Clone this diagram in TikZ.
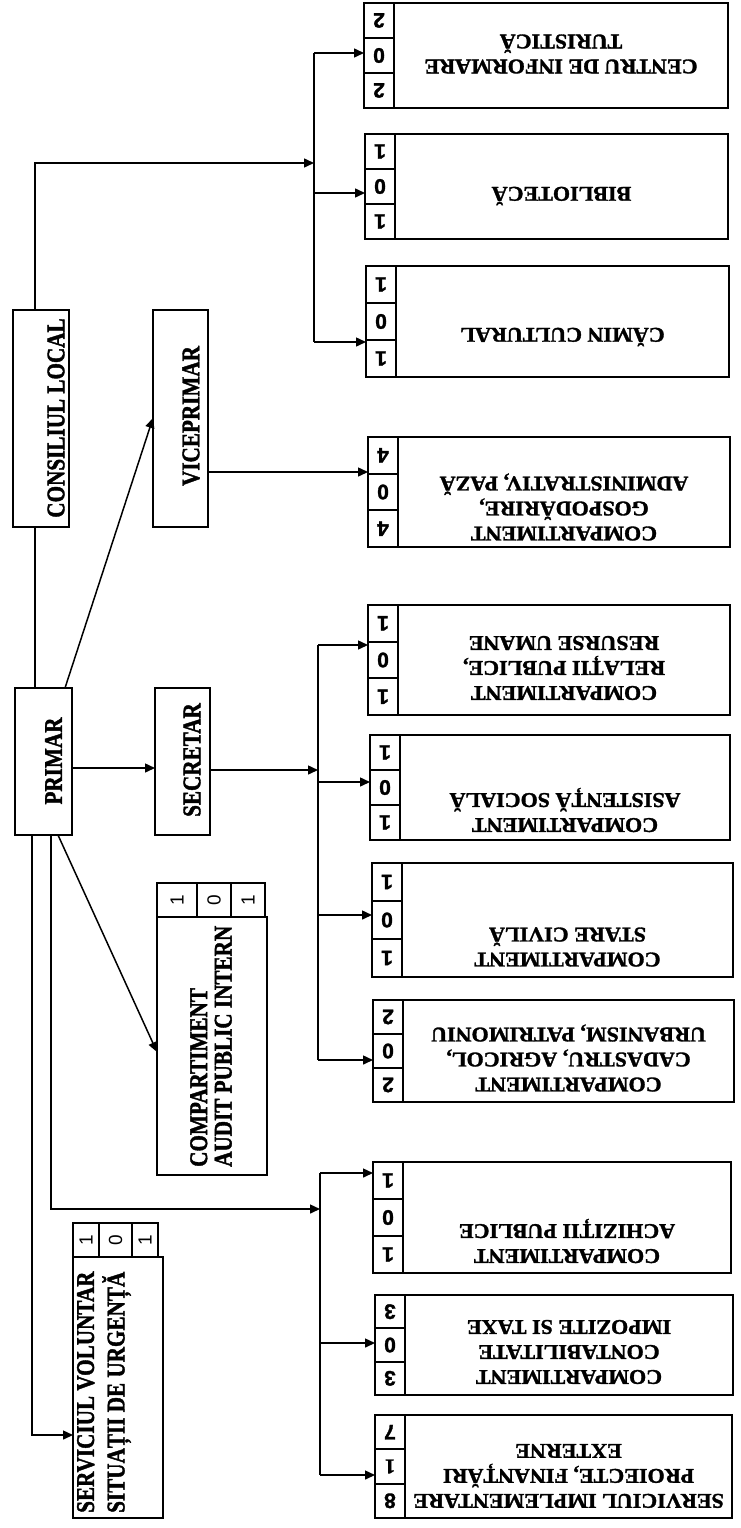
\documentclass[tikz,border=0pt]{standalone}
\usepackage{fontspec}
\setmainfont{Liberation Serif}
\newfontfamily\rtfont{Liberation Serif Bold}[FakeStretch=1.05,FakeBold=1.5]
\newfontfamily\ltfont{Liberation Serif Bold}[FakeStretch=0.83,FakeBold=1.5]
\newfontfamily\numfont{Liberation Sans}
\newfontfamily\numbold{Liberation Sans Bold}[FakeBold=1.5]
\newfontfamily\numserif{Liberation Serif Bold}[FakeBold=1.5]
\usetikzlibrary{arrows.meta}

\tikzset{
  box/.style={draw, line width=2.6pt, inner sep=0pt, outer sep=0pt},
  stripline/.style={line width=2.6pt},
  cell/.style={line width=1.8pt},
  conn/.style={line width=1.5pt},
  arr/.style={conn, -{Triangle[length=10pt,width=9pt]}},
  rtxt/.style={rotate=180, align=center, inner sep=0pt, font=\rtfont\fontsize{21}{25}\selectfont},
  ltxt/.style={rotate=90, align=left, inner sep=0pt, font=\ltfont\fontsize{25.5}{24.5}\selectfont},
  rnum/.style={rotate=180, inner sep=0pt, font=\numbold\fontsize{21}{21}\selectfont},
  lcell/.style={draw, line width=1.8pt, rotate=90, inner sep=0pt, outer sep=0pt, font=\numfont\fontsize{19}{19}\selectfont},
}

% right-hand box with number strip: name, x1, y1, x2, y2, top, middle, bottom digit
\newcommand\rbox[8]{%
  \pgfmathsetmacro\hh{(#5-#3)/3}%
  \node[box, minimum width={(#4-#2)*1pt}, minimum height={(#5-#3)*1pt}] (#1) at ({(#2+#4)/2},{(#3+#5)/2}) {};
  \draw[stripline] ({#2+30},#3) -- ({#2+30},#5);
  \draw[cell] (#2,{#3+\hh}) -- ({#2+30},{#3+\hh});
  \draw[cell] (#2,{#3+2*\hh}) -- ({#2+30},{#3+2*\hh});
  \node[rnum] (#1a) at ({#2+15},{#3+0.5*\hh}) {#6};
  \node[rnum] (#1b) at ({#2+15},{#3+1.5*\hh}) {#7};
  \node[rnum] (#1c) at ({#2+15},{#3+2.5*\hh}) {#8};
}

\begin{document}
\begin{tikzpicture}[x=1pt,y=-1pt]
\fill[white] (0,0) rectangle (740,1528);
\useasboundingbox (0,0) rectangle (740,1528);

% ---------- right column boxes ----------
\rbox{cen}{364}{3}{728}{108}{2}{0}{2}
\node[rtxt] (cent) at (561,54) {CENTRU DE INFORMARE\\TURISTICĂ};
\rbox{bib}{365}{134}{728}{239}{1}{0}{1}
\node[rtxt] (bibt) at (561.5,196) {BIBLIOTECĂ};
\rbox{cam}{366}{266}{729}{377}{1}{0}{1}
\node[rtxt] (camt) at (562.5,337) {CĂMIN CULTURAL};
\rbox{gos}{368}{437}{730}{547}{4}{0}{4}
\node[rtxt] (gost) at (564,507) {COMPARTIMENT\\GOSPODĂRIRE,\\ADMINISTRATIV, PAZĂ};
\rbox{res}{368}{605}{730}{715}{1}{0}{1}
\node[rtxt] (rest) at (564,668) {COMPARTIMENT\\RELAȚII PUBLICE,\\RESURSE UMANE};
\rbox{asi}{370}{735}{730}{840}{1}{0}{1}
\node[rtxt] (asit) at (565,810) {COMPARTIMENT\\ASISTENȚĂ SOCIALĂ};
\rbox{sta}{372}{863}{733}{977}{1}{0}{1}
\node[rtxt] (stat) at (567.5,947) {COMPARTIMENT\\STARE CIVILĂ};
\rbox{cad}{373}{1000}{734}{1102}{2}{0}{2}
\node[rtxt] (cadt) at (568.5,1058) {COMPARTIMENT\\CADASTRU, AGRICOL,\\URBANISM, PATRIMONIU};
\rbox{ach}{373}{1162}{731}{1273}{1}{0}{1}
\node[rtxt] (acht) at (567,1241) {COMPARTIMENT\\ACHIZIȚII PUBLICE};
\rbox{con}{375}{1295}{733}{1395}{3}{0}{3}
\node[rtxt] (cont) at (569,1352) {COMPARTIMENT\\CONTABILITATE\\IMPOZITE SI TAXE};
\rbox{ser}{375}{1415}{732}{1518}{7}{\numserif 1}{8}
\node[rtxt] (sert) at (568.5,1476) {SERVICIUL IMPLEMENTARE\\PROIECTE, FINANȚĂRI\\EXTERNE};

% ---------- left column boxes ----------
\node[box, minimum width=56pt, minimum height=217pt] (cons) at (41,418.5) {};
\node[ltxt] (const) at (56,418) {CONSILIUL LOCAL};
\node[box, minimum width=55pt, minimum height=217pt] (vice) at (180.5,418.5) {};
\node[ltxt] (vicet) at (191,416) {VICEPRIMAR};
\node[box, minimum width=57pt, minimum height=147pt] (prim) at (43.5,761.5) {};
\node[ltxt] (primt) at (53.5,761) {PRIMAR};
\node[box, minimum width=55pt, minimum height=147pt] (sec) at (182.5,761.5) {};
\node[ltxt] (sect) at (192,760) {SECRETAR};

% audit
\node[box, minimum width=110pt, minimum height=258pt] (aud) at (212,1046) {};
\node[lcell, minimum width=34pt, minimum height=40pt] (aud1) at (177,900) {1};
\node[lcell, minimum width=34pt, minimum height=34pt] (aud2) at (214,900) {0};
\node[lcell, minimum width=34pt, minimum height=34pt] (aud3) at (248,900) {1};
\node[ltxt, anchor=west] (audt) at (211,1167) {COMPARTIMENT\\AUDIT PUBLIC INTERN};

% serviciul voluntar
\node[box, minimum width=90pt, minimum height=261pt] (sv) at (118,1387.5) {};
\node[lcell, minimum width=34pt, minimum height=26pt] (sv1) at (86,1240) {1};
\node[lcell, minimum width=34pt, minimum height=33pt] (sv2) at (115.5,1240) {0};
\node[lcell, minimum width=34pt, minimum height=26pt] (sv3) at (145,1240) {1};
\node[ltxt, anchor=west, font=\ltfont\fontsize{25.5}{30.5}\selectfont] (svt) at (104,1513) {SERVICIUL VOLUNTAR\\SITUAȚII DE URGENȚĂ};

% ---------- connectors ----------
% consiliul local -> top bus
\coordinate (cTop) at (35,310);
\coordinate (cTurn) at (35,163);
\coordinate (busAin) at (314,163);
\draw[arr] (cTop) -- (cTurn) -- (busAin);
\coordinate (busA1) at (314,53);
\coordinate (busA2) at (314,193);
\coordinate (busA3) at (314,342);
\draw[conn] (busA1) -- (busA3);
\draw[arr] (busA1) -- (cen.west |- busA1);
\draw[arr] (busA2) -- (bib.west |- busA2);
\draw[arr] (busA3) -- (cam.west |- busA3);

% consiliul -> primar
\coordinate (cBot) at (35,527);
\coordinate (pTop) at (35,688);
\draw[conn] (cBot) -- (pTop);

% primar -> viceprimar
\coordinate (pNE) at (65,688);
\coordinate (vIn) at (153,418);
\draw[arr] (pNE) -- (vIn);

% viceprimar -> gospodarire
\coordinate (vOut) at (208,472);
\draw[arr] (vOut) -- (gos.west |- vOut);

% primar -> secretar
\coordinate (pE) at (72,768);
\draw[arr] (pE) -- (sec.west |- pE);

% secretar -> middle bus
\coordinate (sOut) at (210,770);
\coordinate (busBin) at (318,770);
\draw[arr] (sOut) -- (busBin);
\coordinate (busB1) at (318,645);
\coordinate (busB2) at (318,782);
\coordinate (busB3) at (318,915);
\coordinate (busB4) at (318,1060);
\draw[conn] (busB1) -- (busB4);
\draw[arr] (busB1) -- (res.west |- busB1);
\draw[arr] (busB2) -- (asi.west |- busB2);
\draw[arr] (busB3) -- (sta.west |- busB3);
\draw[arr] (busB4) -- (cad.west |- busB4);

% primar -> audit
\coordinate (pS1) at (58,835);
\coordinate (aIn) at (157,1052);
\draw[arr] (pS1) -- (aIn);

% primar -> bottom bus
\coordinate (pS2) at (51,835);
\coordinate (busCin) at (320,1209);
\draw[arr] (pS2) |- (busCin);
\coordinate (busC1) at (320,1173);
\coordinate (busC2) at (320,1343);
\coordinate (busC3) at (320,1475);
\draw[conn] (busC1) -- (busC3);
\draw[arr] (busC1) -- (ach.west |- busC1);
\draw[arr] (busC2) -- (con.west |- busC2);
\draw[arr] (busC3) -- (ser.west |- busC3);

% primar -> serviciul voluntar
\coordinate (pS3) at (32,835);
\coordinate (svIn) at (73,1435);
\draw[arr] (pS3) |- (svIn);
\end{tikzpicture}
\end{document}
